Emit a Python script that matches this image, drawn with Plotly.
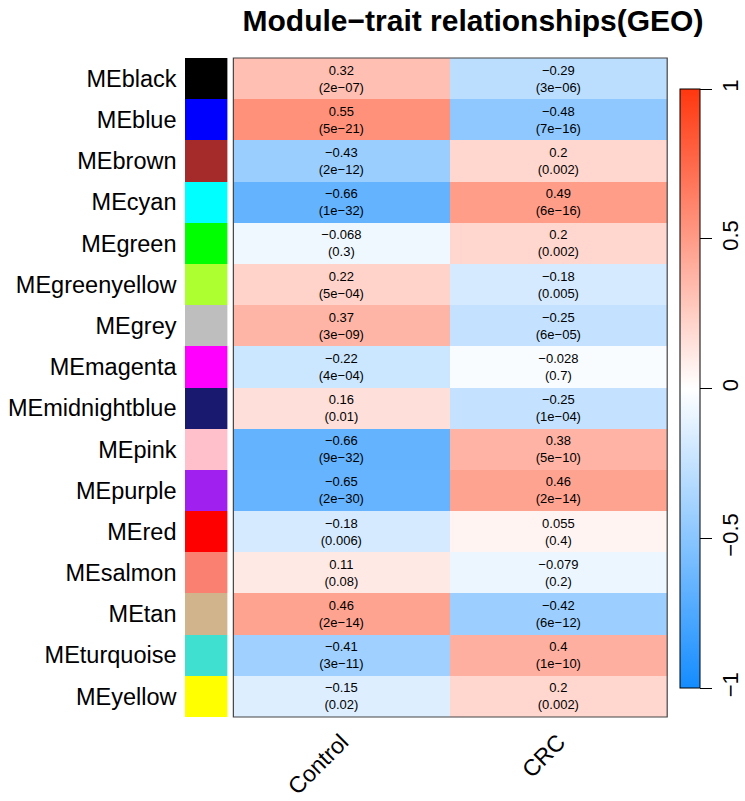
import plotly.graph_objects as go

modules = ["MEblack", "MEblue", "MEbrown", "MEcyan", "MEgreen", "MEgreenyellow", "MEgrey",
           "MEmagenta", "MEmidnightblue", "MEpink", "MEpurple", "MEred", "MEsalmon", "MEtan",
           "MEturquoise", "MEyellow"]
module_colors = ["#000000", "#0000FF", "#A52A2A", "#00FFFF", "#00FF00", "#ADFF2F", "#BEBEBE",
                 "#FF00FF", "#191970", "#FFC0CB", "#A020F0", "#FF0000", "#FA8072", "#D2B48C",
                 "#40E0D0", "#FFFF00"]
traits = ["Control", "CRC"]
cor_control = [0.32, 0.55, -0.43, -0.66, -0.068, 0.22, 0.37, -0.22, 0.16, -0.66, -0.65, -0.18, 0.11, 0.46, -0.41, -0.15]
cor_crc = [-0.29, -0.48, 0.2, 0.49, 0.2, -0.18, -0.25, -0.028, -0.25, 0.38, 0.46, 0.055, -0.079, -0.42, 0.4, 0.2]
p_control = ["2e-07", "5e-21", "2e-12", "1e-32", "0.3", "5e-04", "3e-09", "4e-04", "0.01", "9e-32", "2e-30", "0.006", "0.08", "2e-14", "3e-11", "0.02"]
p_crc = ["3e-06", "7e-16", "0.002", "6e-16", "0.002", "0.005", "6e-05", "0.7", "1e-04", "5e-10", "2e-14", "0.4", "0.2", "6e-12", "1e-10", "0.002"]
cbar_ticks = [-1, -0.5, 0, 0.5, 1]

W, H = 745, 801
M = "\u2212"


def fmt(v):
    s = f"{v:g}"
    return s.replace("-", M)


z = [[c1, c2] for c1, c2 in zip(cor_control, cor_crc)]
text = [[f"{fmt(c1)}<br>({p1.replace('-', M)})", f"{fmt(c2)}<br>({p2.replace('-', M)})"]
        for c1, c2, p1, p2 in zip(cor_control, cor_crc, p_control, p_crc)]

colorscale = [[0.0, "rgb(20,140,255)"], [0.5, "rgb(255,255,255)"], [1.0, "rgb(255,55,15)"]]

FONT = "Liberation Sans, Arial, Helvetica, sans-serif"

fig = go.Figure()
fig.add_trace(go.Heatmap(
    z=z, x=traits, y=modules, text=text, texttemplate="%{text}",
    textfont=dict(size=13, color="black", family=FONT),
    colorscale=colorscale, zmin=-1, zmax=1, xaxis="x", yaxis="y",
    colorbar=dict(
        x=682 / W, xanchor="left", xpad=0,
        y=1 - 388.5 / H, yanchor="middle", ypad=0,
        len=599, lenmode="pixels", thickness=20, thicknessmode="pixels",
        outlinewidth=1, outlinecolor="black",
        tickvals=cbar_ticks, ticktext=[fmt(t) for t in cbar_ticks],
        ticks="outside", ticklen=12, tickwidth=1, tickcolor="black",
        tickangle=-90, tickfont=dict(size=22, color="black", family=FONT),
    ),
    hoverongaps=False,
))

fig.add_trace(go.Bar(
    x=[1] * len(modules), y=modules, orientation="h", width=1,
    marker=dict(color=module_colors, line=dict(width=0)),
    xaxis="x2", yaxis="y", showlegend=False, hoverinfo="y",
))

fig.add_shape(type="rect", xref="x domain", yref="y domain", x0=0, x1=1, y0=0, y1=1,
              line=dict(color="#444444", width=1.2), fillcolor="rgba(0,0,0,0)", layer="above")

fig.update_layout(
    width=W, height=H,
    margin=dict(l=0, r=0, t=0, b=0),
    paper_bgcolor="white", plot_bgcolor="white",
    font=dict(family=FONT, color="black"),
    title=dict(text="<b>Module\u2212trait relationships(GEO)</b>", x=473 / W, xanchor="center",
               y=1 - 20 / H, yanchor="middle", font=dict(size=30, color="black", family=FONT)),
    xaxis=dict(domain=[234 / W, 669 / W], tickangle=-45, tickfont=dict(size=23),
               showgrid=False, zeroline=False, ticks="", ticklabelstandoff=6, anchor="y"),
    xaxis2=dict(domain=[185 / W, 228 / W], range=[0, 1], showticklabels=False,
                showgrid=False, zeroline=False, anchor="y"),
    yaxis=dict(domain=[1 - 717 / H, 1 - 58 / H], autorange="reversed", anchor="x2",
               tickfont=dict(size=23.5), showgrid=False, zeroline=False, ticks="",
               ticklabelstandoff=7),
    bargap=0,
)

fig.write_html("out.html")
